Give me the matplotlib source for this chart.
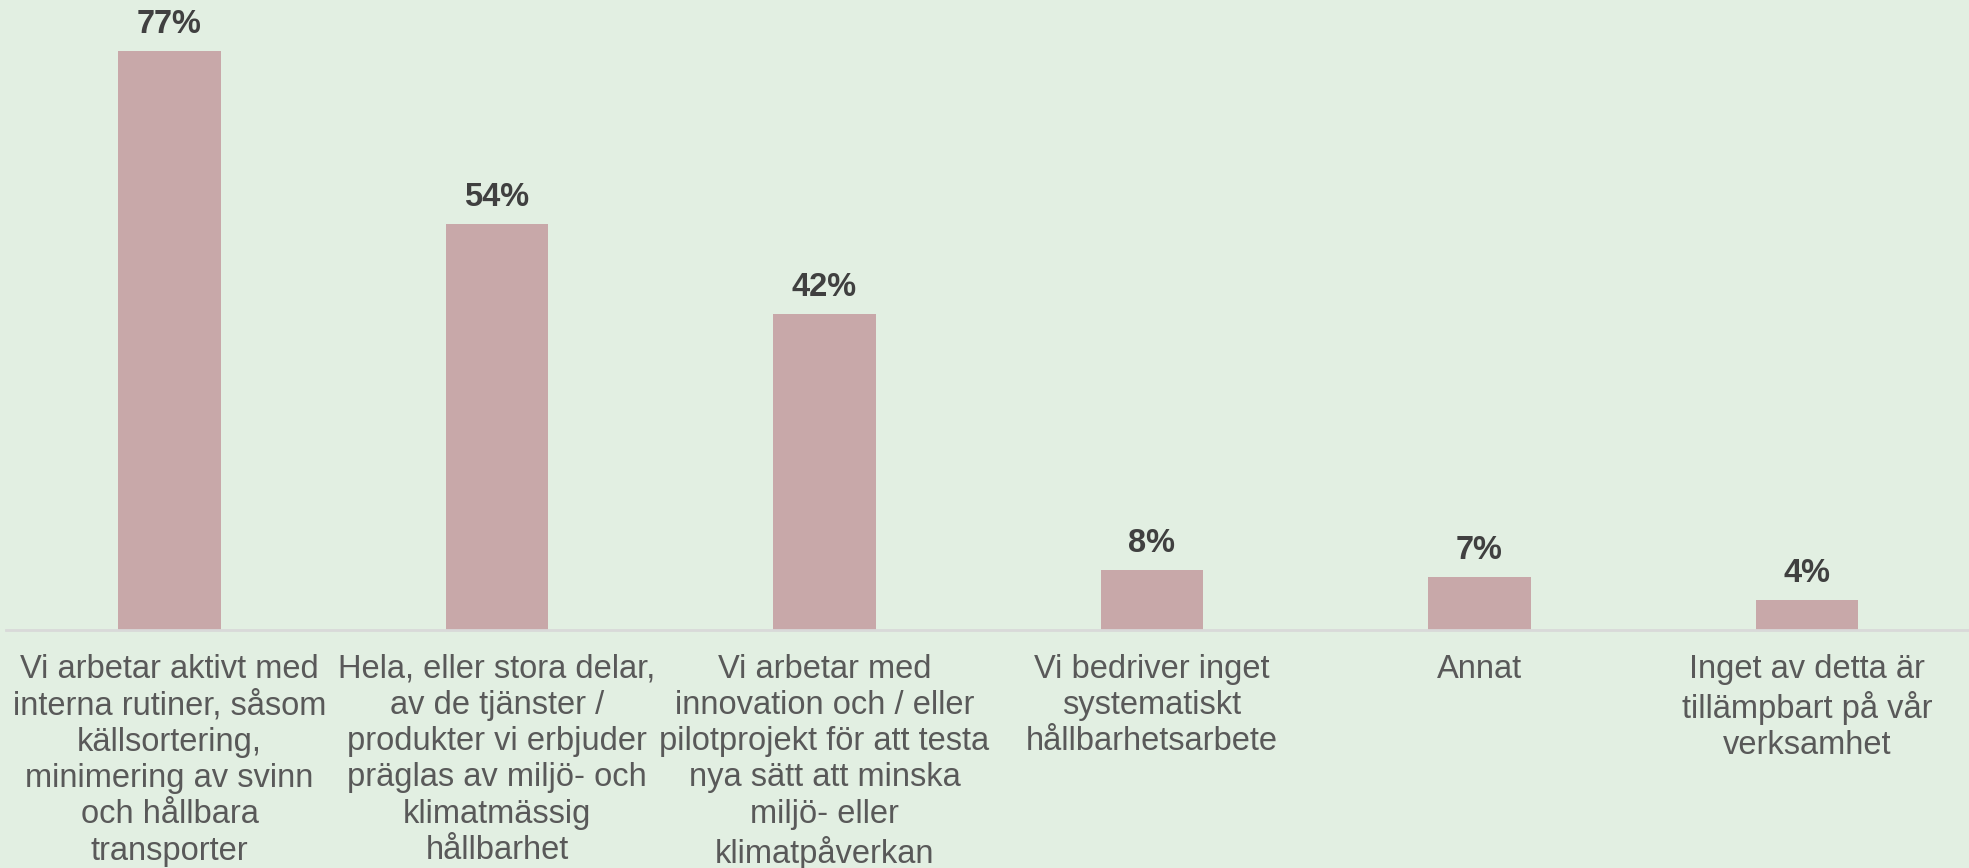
import matplotlib as mpl
mpl.use('Agg')
import matplotlib.pyplot as plt
import numpy as np

categories = [
    "Vi arbetar aktivt med\ninterna rutiner, såsom\nkällsortering,\nminimering av svinn\noch hållbara\ntransporter",
    "Hela, eller stora delar,\nav de tjänster /\nprodukter vi erbjuder\npräglas av miljö- och\nklimatmässig\nhållbarhet",
    "Vi arbetar med\ninnovation och / eller\npilotprojekt för att testa\nnya sätt att minska\nmiljö- eller\nklimatpåverkan",
    "Vi bedriver inget\nsystematiskt\nhållbarhetsarbete",
    "Annat",
    "Inget av detta är\ntillämpbart på vår\nverksamhet",
]
values = [77, 54, 42, 8, 7, 4]
value_labels = ["77%", "54%", "42%", "8%", "7%", "4%"]

bg = '#E2EFE2'
plt.rcParams['font.family'] = ['Liberation Sans', 'DejaVu Sans']

fig = plt.figure(figsize=(19.69, 8.68), dpi=100)
fig.patch.set_facecolor(bg)
ax = fig.add_axes([0.0029, 0.2742, 0.998, 0.7258])
ax.set_facecolor(bg)

x = np.arange(len(values))
ax.bar(x, values, width=0.314, color='#C8A8A9', zorder=2)

for xi, v, lab in zip(x, values, value_labels):
    ax.annotate(lab, (xi, v), xytext=(0, 13), textcoords='offset points',
                ha='center', va='baseline', fontsize=23.5, fontweight='bold',
                color='#404040')

ax.set_xlim(-0.5, len(values) - 0.5)
ax.set_ylim(0, 83.8)
ax.set_yticks([])
ax.set_xticks(x)
ax.set_xticklabels(categories, fontsize=23.5, color='#595959', linespacing=1.22)
ax.tick_params(axis='x', length=0, pad=17)

for s in ['top', 'right', 'left']:
    ax.spines[s].set_visible(False)
ax.spines['bottom'].set_color('#D9D9D9')
ax.spines['bottom'].set_linewidth(2)

plt.savefig('out.png', dpi=100, facecolor=bg)
